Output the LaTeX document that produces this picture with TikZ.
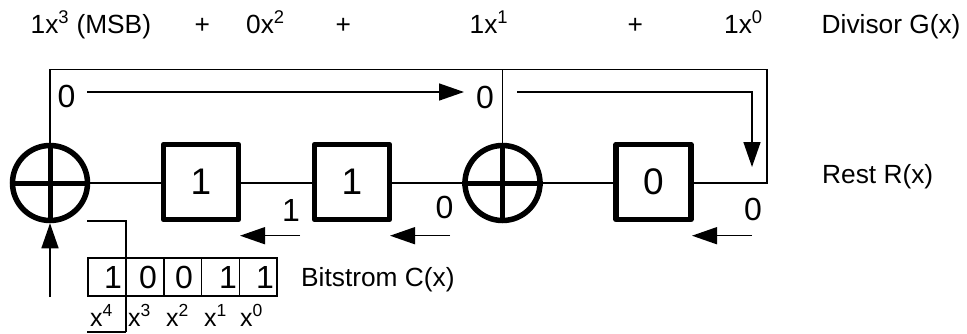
\documentclass[tikz,border=0pt]{standalone}
\usepackage{fontspec}
\setmainfont{Liberation Sans}
\usetikzlibrary{arrows.meta}
\tikzset{
  x=1pt,y=-1pt,
  thin line/.style={line width=1.5pt,draw=black},
  big/.style={inner sep=0pt,font=\fontsize{32}{32}\selectfont},
  txt/.style={inner sep=0pt,anchor=base west,font=\fontsize{26.3}{28}\selectfont},
  idx/.style={inner sep=0pt,anchor=base west,font=\fontsize{25}{28}\selectfont},
  regbox/.style={draw,line width=5.5pt,line join=round,minimum width=75pt,minimum height=75pt,inner sep=0pt,font=\fontsize{37}{37}\selectfont},
  xorgate/.style={draw,line width=5.5pt,circle,minimum size=75pt,inner sep=0pt},
  cell/.style={draw,line width=1.5pt,minimum width=37.7pt,minimum height=38pt,inner sep=0pt},
  head/.style={-{Triangle[length=25pt,width=17pt]},thin line},
}
\begin{document}
\begin{tikzpicture}
\useasboundingbox (0,0) rectangle (967,333);
\fill[white] (0,0) rectangle (967,333);
% gates and registers
\node[xorgate] (xa) at (50,183) {};
\node[xorgate] (xb) at (502.5,183) {};
\draw[line width=5pt] (xa.west) -- (xa.east) (xa.north) -- (xa.south);
\draw[line width=5pt] (xb.west) -- (xb.east) (xb.north) -- (xb.south);
\node[regbox] (ra) at (201,182) {1};
\node[regbox] (rb) at (352,182) {1};
\node[regbox] (rc) at (653.5,182) {0};
% wires
\coordinate (tl) at (50,69.5);
\coordinate (tm) at (502.5,69.5);
\coordinate (tr) at (767,69.5);
\coordinate (br) at (767,183);
\coordinate (wa) at (ra.west |- xa.east);
\coordinate (wb) at (ra.east |- xa.east);
\coordinate (wc) at (rb.west |- xa.east);
\coordinate (wd) at (rb.east |- xa.east);
\coordinate (we) at (rc.west |- xa.east);
\coordinate (wf) at (rc.east |- xa.east);
\draw[thin line] (xa.east) -- (wa) (wb) -- (wc) (wd) -- (xb.west) (xb.east) -- (we);
\draw[thin line] (wf) -- (br) -- (tr) -- (tl) -- (xa.north);
\draw[thin line] (tm) -- (xb.north);
% flow arrows
\coordinate (fa1) at (87,92); \coordinate (fa2) at (464,92);
\draw[head] (fa1) -- (fa2);
\coordinate (fb1) at (517,92); \coordinate (fb2) at (752,92); \coordinate (fb3) at (752,167);
\draw[head] (fb1) -- (fb2) -- (fb3);
\coordinate (fc1) at (300,235.7); \coordinate (fc2) at (240,235.7);
\draw[head] (fc1) -- (fc2);
\coordinate (fd1) at (450,235.7); \coordinate (fd2) at (390,235.7);
\draw[head] (fd1) -- (fd2);
\coordinate (fe1) at (752,235.7); \coordinate (fe2) at (692,235.7);
\draw[head] (fe1) -- (fe2);
\coordinate (in) at (50,297);
\draw[head] (in) -- (xa.south);
% top labels
\node[txt] (t1) at (30.5,33) {1x\textsuperscript{3} (MSB)};
\node[txt] (t2) at (194.5,33) {+};
\node[txt] (t3) at (246,33) {0x\textsuperscript{2}};
\node[txt] (t4) at (335.5,33) {+};
\node[txt] (t5) at (469.5,33) {1x\textsuperscript{1}};
\node[txt] (t6) at (627.5,33) {+};
\node[txt] (t7) at (724,33) {1x\textsuperscript{0}};
\node[txt] (t8) at (821.5,33) {Divisor G(x)};
\node[txt] (rest) at (822,183) {Rest R(x)};
\node[txt] (bit) at (301,286) {Bitstrom C(x)};
% value labels
\node[big] (v1) at (66.5,96) {0};
\node[big] (v2) at (485,97) {0};
\node[big] (v3) at (291,210) {1};
\node[big] (v4) at (444.5,207) {0};
\node[big] (v5) at (753,209.5) {0};
% register table
\node[cell] (c0) at (107,277) {};
\node[cell] (c1) at (145,277) {};
\node[cell] (c2) at (182.7,277) {};
\node[cell] (c3) at (220.4,277) {};
\node[cell] (c4) at (258.1,277) {};
\node[big] at (113,277) {1};
\node[big] at (148,277) {0};
\node[big] at (184,277) {0};
\node[big] at (228,277) {1};
\node[big] at (265,277) {1};
\node[idx] (i4) at (90,326) {x\textsuperscript{4}};
\node[idx] (i3) at (128,326) {x\textsuperscript{3}};
\node[idx] (i2) at (166,326) {x\textsuperscript{2}};
\node[idx] (i1) at (204,326) {x\textsuperscript{1}};
\node[idx] (i0) at (240,326) {x\textsuperscript{0}};
% bracket
\coordinate (ba) at (87,221); \coordinate (bb) at (126,221); \coordinate (bc) at (126,332); \coordinate (bd) at (87,332);
\draw[line width=2.6pt] (ba) -- (bb) -- (bc);
\draw[thin line] (bc) -- (bd);
\end{tikzpicture}
\end{document}
